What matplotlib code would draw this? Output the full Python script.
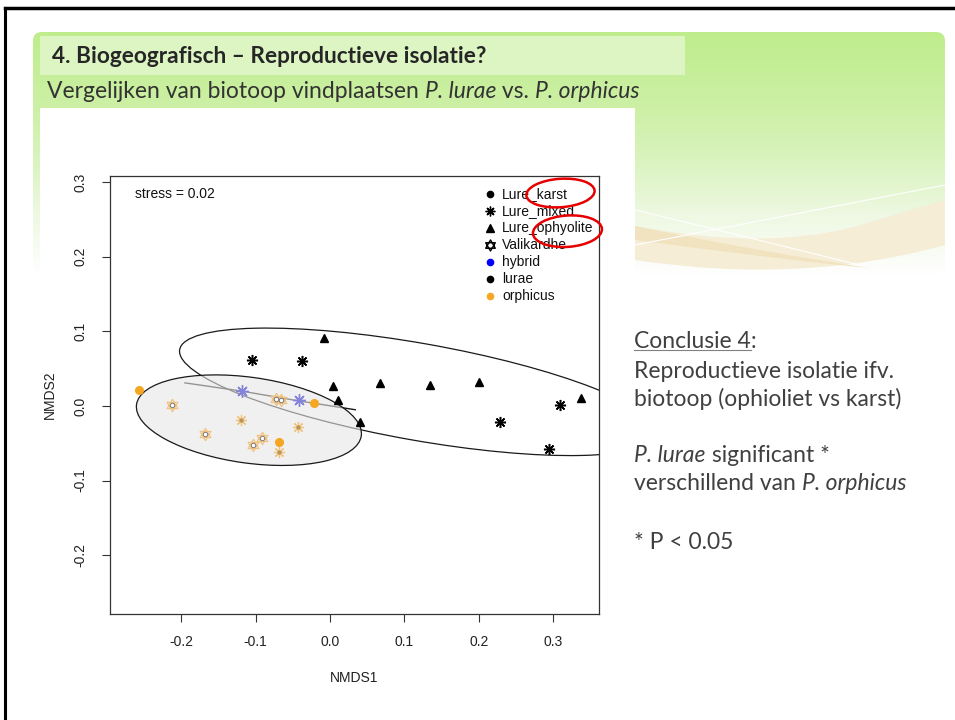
import numpy as np
import matplotlib.pyplot as plt
from matplotlib.patches import Ellipse, FancyBboxPatch, Rectangle, PathPatch
from matplotlib.path import Path

# NMDS scores, grouped by species / biotope
lure_oph_x = [-0.008, 0.004, 0.011, 0.041, 0.067, 0.134, 0.200, 0.338]
lure_oph_y = [0.091, 0.027, 0.008, -0.021, 0.031, 0.028, 0.032, 0.011]

lure_mix_x = [-0.105, -0.038, 0.309, 0.229, 0.295]
lure_mix_y = [0.061, 0.060, 0.002, -0.022, -0.057]

orph_karst_x = [-0.257, -0.021, -0.069]
orph_karst_y = [0.022, 0.004, -0.048]

orph_vali_x = [-0.213, -0.168, -0.104, -0.091, -0.072, -0.066]
orph_vali_y = [0.002, -0.037, -0.052, -0.043, 0.009, 0.008]

orph_mix_x = [-0.119, -0.043, -0.069]
orph_mix_y = [-0.019, -0.028, -0.062]

hybrid_mix_x = [-0.118, -0.042]
hybrid_mix_y = [0.020, 0.008]

# fitted line through the orphicus / hybrid group
trend_x = [-0.195, -0.119, -0.043, 0.034]
trend_y = [0.031, 0.020, 0.007, -0.005]

# ordination ellipses: centre x, centre y, width, height, angle
lurae_ell = (0.119, 0.019, 0.652, 0.130, -10.0)
orph_ell = (-0.109, -0.019, 0.305, 0.115, -7.9)

x_ticks = [-0.2, -0.1, 0.0, 0.1, 0.2, 0.3]
y_ticks = [-0.2, -0.1, 0.0, 0.1, 0.2, 0.3]

leg_labels = ['Lure_karst', 'Lure_mixed', 'Lure_ophyolite', 'Valikardhe', 'hybrid', 'lurae', 'orphicus']

ORANGE = '#f5a623'
PALE_OR = '#f0c27e'
HYB = '#8383de'

# star of David marker (R pch 11)
star = Path([(0, 1), (-0.866, -0.5), (0.866, -0.5), (0, 1),
             (0, -1), (-0.866, 0.5), (0.866, 0.5), (0, -1)],
            [Path.MOVETO, Path.LINETO, Path.LINETO, Path.CLOSEPOLY] * 2)
asterisk = (8, 2, 0)

fig = plt.figure(figsize=(9.55, 7.2), dpi=100)

# ---- slide background (pixel coordinates) ----
bg = fig.add_axes([0, 0, 1, 1])
bg.set_xlim(0, 955)
bg.set_ylim(720, 0)
bg.axis('off')

stops_y = [32, 110, 170, 215, 275]
stops_c = ['#bfed8c', '#cdf0a6', '#ddf4c4', '#eef8e2', '#ffffff']
rows = np.linspace(32, 275, 200)
rgb = np.array([[int(c[i:i + 2], 16) / 255 for i in (1, 3, 5)] for c in stops_c])
grad = np.stack([np.interp(rows, stops_y, rgb[:, k]) for k in range(3)], axis=-1)[:, None, :]
panel = FancyBboxPatch((33, 32), 912, 243, boxstyle='round,pad=0,rounding_size=9',
                       facecolor='none', edgecolor='none')
bg.add_patch(panel)
im = bg.imshow(grad, extent=(33, 945, 275, 32), aspect='auto', zorder=0)
im.set_clip_path(panel)

# beige waves
wave = Path([(635, 226), (760, 250), (850, 228), (945, 200),
             (945, 245), (800, 285), (635, 260), (635, 226)],
            [Path.MOVETO, Path.CURVE3, Path.CURVE3, Path.LINETO,
             Path.LINETO, Path.CURVE3, Path.CURVE3, Path.CLOSEPOLY])
bg.add_patch(PathPatch(wave, facecolor='#f5edd5', edgecolor='none', zorder=1))
band = Path([(635, 226), (760, 252), (870, 268), (800, 262), (635, 240), (635, 226)],
            [Path.MOVETO, Path.CURVE3, Path.CURVE3, Path.CURVE3, Path.CURVE3, Path.CLOSEPOLY])
bg.add_patch(PathPatch(band, facecolor='#f1e3c0', edgecolor='none', zorder=1))
bg.add_patch(PathPatch(Path([(635, 245), (790, 215), (945, 185)],
                            [Path.MOVETO, Path.CURVE3, Path.CURVE3]),
                       facecolor='none', edgecolor='white', lw=0.8, zorder=1))
bg.add_patch(PathPatch(Path([(635, 210), (760, 240), (867, 267)],
                            [Path.MOVETO, Path.CURVE3, Path.CURVE3]),
                       facecolor='none', edgecolor='white', lw=0.8, zorder=1))

# title bar
bg.add_patch(Rectangle((40, 36), 645, 39, facecolor='#dcf5c3', edgecolor='none', zorder=1))
bg.text(52, 63, '4. Biogeografisch \u2013 Reproductieve isolatie?', fontsize=16.3,
        fontweight='bold', family='Lato', color='#262626', va='baseline', zorder=2)

fs = 16.5
# subtitle with italic species names
parts = [('Vergelijken van biotoop vindplaatsen ', 'normal'), ('P. lurae', 'italic'),
         (' vs. ', 'normal'), ('P. orphicus', 'italic')]
prev = bg.text(47, 98, parts[0][0], fontsize=fs, family='Lato', color='#333333',
               va='baseline', zorder=2)
for txt, st in parts[1:]:
    prev = bg.annotate(txt, xy=(1, 0), xycoords=prev, fontsize=fs, family='Lato',
                       style=st, color='#333333', va='bottom', ha='left', zorder=2)

# white area behind the R plot
bg.add_patch(Rectangle((40, 108), 595, 612, facecolor='white', edgecolor='none', zorder=1))

# slide border
bg.plot([5, 955], [8, 8], color='black', lw=2.5, zorder=3)
bg.plot([5, 5], [8, 720], color='black', lw=2.2, zorder=3)

# conclusion text
tc = '#404040'
t0 = bg.text(634, 348, 'Conclusie 4', fontsize=fs, family='Lato', color=tc, va='baseline')
bg.annotate(':', xy=(1, 0), xycoords=t0, fontsize=fs, family='Lato', color=tc, va='bottom')
bg.text(634, 378, 'Reproductieve isolatie ifv.', fontsize=fs, family='Lato', color=tc, va='baseline')
bg.text(634, 406, 'biotoop (ophioliet vs karst)', fontsize=fs, family='Lato', color=tc, va='baseline')
t1 = bg.text(634, 462, 'P. lurae', fontsize=fs, family='Lato', style='italic', color=tc, va='baseline')
bg.annotate(' significant *', xy=(1, 0), xycoords=t1, fontsize=fs, family='Lato', color=tc, va='bottom')
t2 = bg.text(634, 490, 'verschillend van ', fontsize=fs, family='Lato', color=tc, va='baseline')
bg.annotate('P. orphicus', xy=(1, 0), xycoords=t2, fontsize=fs, family='Lato', style='italic',
            color=tc, va='bottom')
bg.text(634, 549, '* P < 0.05', fontsize=fs, family='Lato', color=tc, va='baseline')

# ---- NMDS plot ----
ax = fig.add_axes([110 / 955, 1 - 614 / 720, 489 / 955, 438 / 720])
ax.set_xlim(-0.2957, 0.3616)
ax.set_ylim(-0.2788, 0.3083)
ax.set_facecolor('none')

cx, cy, w, h, a = lurae_ell
ax.add_patch(Ellipse((cx, cy), w, h, angle=a, fill=False, edgecolor='#1a1a1a', lw=0.9, zorder=2))
ax.plot(trend_x, trend_y, color='#1a1a1a', lw=1.0, zorder=2)
cx, cy, w, h, a = orph_ell
ax.add_patch(Ellipse((cx, cy), w, h, angle=a, facecolor=(0.9, 0.9, 0.9, 0.6),
                     edgecolor='none', zorder=3))
ax.add_patch(Ellipse((cx, cy), w, h, angle=a, fill=False, edgecolor='#1a1a1a', lw=0.9, zorder=3))

ax.plot(lure_oph_x, lure_oph_y, '^', color='black', ms=6, ls='none', zorder=4)
ax.plot(lure_mix_x, lure_mix_y, marker=asterisk, color='black', ms=8, mew=1.1, ls='none', zorder=4)
ax.plot(orph_karst_x, orph_karst_y, 'o', color=ORANGE, ms=5.5, ls='none', zorder=4)
ax.plot(orph_vali_x, orph_vali_y, marker=star, mfc='none', mec=PALE_OR, ms=9, mew=0.8, ls='none', zorder=4)
ax.plot(orph_vali_x, orph_vali_y, 'o', mfc='white', mec='#7a7a7a', ms=3.2, mew=0.7, ls='none', zorder=5)
ax.plot(orph_mix_x, orph_mix_y, marker=asterisk, color=PALE_OR, ms=8, mew=0.9, ls='none', zorder=4)
ax.plot(orph_mix_x, orph_mix_y, 'o', color='#b8955e', ms=2, ls='none', zorder=5)
ax.plot(hybrid_mix_x, hybrid_mix_y, marker=asterisk, color=HYB, ms=9, mew=1.0, ls='none', zorder=4)

ax.set_xticks(x_ticks)
ax.set_yticks(y_ticks)
ax.set_xticklabels(['%.1f' % v for v in x_ticks])
ax.set_yticklabels(['%.1f' % v for v in y_ticks], rotation=90, va='center')
ax.tick_params(length=6, width=0.8, color='#333333', labelsize=10, labelcolor='#222222')
ax.tick_params(axis='x', pad=9)
ax.tick_params(axis='y', pad=10)
for s in ax.spines.values():
    s.set_color('#333333')
    s.set_linewidth(0.9)
for lab in ax.get_xticklabels() + ax.get_yticklabels():
    lab.set_family('Liberation Sans')
ax.set_xlabel('NMDS1', fontsize=10, family='Liberation Sans', color='#222222', labelpad=16)
ax.set_ylabel('NMDS2', fontsize=10, family='Liberation Sans', color='#222222', labelpad=12)

ax.text(0.051, 0.9578, 'stress = 0.02', transform=ax.transAxes, fontsize=10,
        family='Liberation Sans', va='center', color='#111111')

# legend drawn R-style
leg_markers = ['o', asterisk, '^', star, 'o', 'o', 'o']
leg_colors = ['black', 'black', 'black', 'black', 'blue', 'black', ORANGE]
leg_sizes = [4.5, 7, 5.5, 8, 4.5, 4.5, 4.5]
for i, lab in enumerate(leg_labels):
    yy = 0.9578 - i * 0.0388
    mfc = 'none' if leg_markers[i] is star else leg_colors[i]
    ax.plot([0.777], [yy], marker=leg_markers[i], color=leg_colors[i], mfc=mfc, ms=leg_sizes[i],
            mew=1.0, transform=ax.transAxes, ls='none', clip_on=False, zorder=6)
    ax.text(0.802, yy, lab, transform=ax.transAxes, fontsize=10, family='Liberation Sans',
            va='center', color='#111111', zorder=6)

# red annotation circles around the legend labels
ax.add_patch(Ellipse((0.3098, 0.2855), 0.0919, 0.0381, angle=4, fill=False,
                     edgecolor='#e60000', lw=1.8, clip_on=False, zorder=7))
ax.add_patch(Ellipse((0.3192, 0.2343), 0.0929, 0.0420, angle=4, fill=False,
                     edgecolor='#e60000', lw=1.8, clip_on=False, zorder=7))

# underline "Conclusie 4"
fig.canvas.draw()
bb = t0.get_window_extent().transformed(bg.transData.inverted())
bg.plot([bb.x0, bb.x1], [350, 350], color='#808080', lw=0.8)

fig.savefig('out.png', dpi=100)
